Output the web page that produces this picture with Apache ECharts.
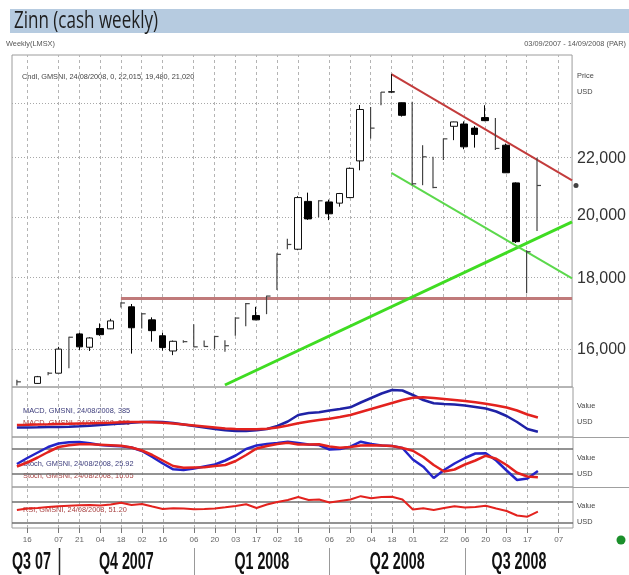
<!DOCTYPE html>
<html><head><meta charset="utf-8">
<script src="https://cdn.jsdelivr.net/npm/echarts@6/dist/echarts.min.js"></script>
<style>html,body{margin:0;padding:0;background:#fff}#c{width:629px;height:575px}</style>
</head><body><div id="c"></div>
<script>
// ---------- data ----------
const weekNo = [0,1,2,3,4,5,6,7,8,9,10,11,12,13,14,15,16,17,18,19,20,21,22,23,24,25,26,27,28,29,30,31,32,33,34,35,36,37,38,39,40,41,42,43,44,45,46,47,48,49,50];
const opens  = [null,null,15110,null,15370,null,16410,16050,16560,16550,null,17170,null,16800,16360,15950,null,null,null,null,null,null,null,16920,null,null,null,18900,20470,null,20450,20410,20600,21900,null,null,24560,24130,null,null,null,null,23200,23290,23130,23540,null,22480,21110,null,null];
const highs  = [15200,null,15300,15400,16060,16330,16440,16320,16700,16830,17300,17250,16990,16870,16440,16230,16240,16680,16230,16360,16240,16870,17280,17170,17490,18770,19230,20650,20770,20510,20530,20760,21660,24040,23960,24570,25310,24140,24170,22480,22050,22730,23380,23390,23210,24030,23520,22540,21130,18870,22015];
const lows   = [15060,null,15100,15320,15370,15500,15980,15950,16360,16540,17150,15880,16560,16200,15960,15840,16170,16050,16060,16010,15930,16360,16620,16790,16960,17660,18900,18870,19850,19930,19840,20290,20580,21560,22730,24030,24520,23580,21030,21030,20920,21930,22670,22330,22390,23400,22300,21470,19100,17560,19480];
const closes = [15150,null,15280,15370,16000,16320,16060,16300,16390,16770,17280,16580,16970,16500,16040,16210,16200,16060,16070,16340,16090,16850,17260,16800,17480,18740,19050,20600,19880,20490,20050,20740,21630,23860,23130,24560,24580,23630,21080,22050,20950,22720,23370,22420,22890,23420,22360,21470,19140,18820,21020];

const macdLine   = [-175,-175,-165,-150,-150,-135,-115,-90,-50,-15,25,65,100,110,100,50,-25,-100,-175,-250,-315,-350,-350,-315,-250,-100,125,450,550,585,675,750,835,1075,1300,1525,1700,1675,1450,1200,1035,1000,975,925,850,775,625,400,100,-250,-385];
const macdSignal = [-50,-40,-25,-15,0,10,25,35,50,65,85,100,100,90,65,25,-25,-75,-125,-175,-225,-250,-265,-260,-235,-175,-75,35,125,200,265,350,450,600,750,900,1050,1200,1310,1335,1300,1250,1200,1150,1085,1010,925,825,675,475,325];
const stochK = [44.0,58.4,71.6,84.8,93.2,96.1,96.8,93.7,89.6,87.7,86.5,83.6,75.2,60.8,45.2,31.3,29.6,33.2,38.0,42.8,52.4,64.4,80.0,88.4,92.0,94.4,97.5,94.4,90.8,89.6,78.8,80.0,85.5,97.5,92.0,88.4,87.2,82.4,54.8,37.5,10.4,29.6,45.2,58.4,69.2,69.7,52.4,28.4,5.6,9.2,27.0];
const stochD = [38.0,47.6,59.6,72.8,84.8,88.9,91.3,91.5,90.3,89.1,87.7,83.6,76.4,65.6,52.4,39.2,35.1,35.6,36.1,39.2,41.6,51.2,65.6,81.2,87.2,92.0,95.1,90.8,90.8,91.3,86.0,83.1,84.8,88.4,89.1,88.4,87.2,82.4,75.7,60.8,41.6,26.0,30.8,42.8,52.4,63.9,56.5,41.6,23.1,14.0,12.1];
const rsi = [54.4,57.2,58.1,60.0,61.3,62.4,63.4,63.8,62.8,64.7,68.1,63.8,65.6,60.9,56.3,57.6,57.2,55.7,56.3,57.2,59.4,61.9,65.1,58.1,64.7,69.4,73.1,78.8,73.1,74.1,68.4,71.3,74.1,80.3,76.3,78.8,79.3,74.1,55.3,57.6,54.4,58.1,61.3,59.1,60.0,62.3,57.2,52.5,44.1,41.8,51.2];

const tickWeeks  = [1,4,6,8,10,12,14,17,19,21,23,25,27,30,32,34,36,38,41,43,45,47,49,52];
const tickLabels = ['16','07','21','04','18','02','16','06','20','03','17','02','16','06','20','04','18','01','22','06','20','03','17','07'];
const quarterNames = ['Q3 07','Q4 2007','Q1 2008','Q2 2008','Q3 2008'];
const quarterStarts = [4,17,30,43];

const priceGridValues = [16000,18000,20000,22000,24000];
const priceTickValues = [16000,18000,20000,22000];
const resistanceLine = [[36,25310],[53.37,21200]];
const channelLine    = [[36,21470],[53.37,18000]];
const supportLine    = [[20,15070],[53.37,19780]];
const levelLine      = [[10,17410],[53.37,17410]];
const lastClose = 21020;

// ---------- build ----------
const LN = Math.log;
const XMIN = -0.47, XMAX = 53.37;
const SANS = "'Liberation Sans','Arial',sans-serif";
function fmt(v){ return String(Math.round(v)).replace(/\B(?=(\d{3})+(?!\d))/g, ','); }

const candleData = [], barData = [];
weekNo.forEach((w,k)=>{
  if (highs[k] == null) return;
  if (opens[k] != null) candleData.push([w, LN(opens[k]), LN(closes[k]), LN(lows[k]), LN(highs[k])]);
  else barData.push([w, LN(highs[k]), LN(lows[k]), LN(closes[k])]);
});
const pairs = arr => weekNo.map((w,k)=>[w, arr[k]]);
const logPairs = arr => arr.map(p=>[p[0], LN(p[1])]);

const vGrid = tickWeeks.map(w=>({xAxis:w, lineStyle:{type:[3,3], color:'#b4b4b4', width:1}}));
const mk = extra => ({silent:true, symbol:'none', z:1, label:{show:false}, emphasis:{disabled:true}, data: vGrid.concat(extra||[])});
const level = v => ({yAxis:v, lineStyle:{type:'solid', color:'#6f6f6f', width:1.5}});

const grids = [
  {left:12, width:561, top:55, height:332},
  {left:12, width:561, top:387, height:50},
  {left:12, width:561, top:437, height:50},
  {left:12, width:561, top:487, height:41}
].map(g=>Object.assign(g,{show:true, borderColor:'#9c9c9c', borderWidth:1, backgroundColor:'transparent'}));

const xAxes = [0,1,2,3].map(i=>({
  gridIndex:i, type:'value', min:XMIN, max:XMAX, show: i===3,
  axisLine:{show:false}, splitLine:{show:false},
  axisTick:{show:true, customValues:tickWeeks, length:5, lineStyle:{color:'#777'}},
  axisLabel:{show:true, customValues:tickWeeks, margin:8, fontSize:8, color:'#666', fontFamily:SANS,
    formatter: v => { const k = tickWeeks.indexOf(Math.round(v)); return k>=0 ? tickLabels[k] : ''; }}
}));

const yAxes = [
  {gridIndex:0, type:'value', position:'right', min:LN(15020), max:LN(26130),
   axisLine:{show:false}, splitLine:{show:false}, axisTick:{show:false},
   axisLabel:{customValues:priceTickValues.map(LN), formatter:v=>fmt(Math.exp(v)), margin:5, fontSize:16, color:'#333', fontFamily:SANS}},
  {gridIndex:1, type:'value', min:-650, max:1850, show:false, splitLine:{show:false}},
  {gridIndex:2, type:'value', min:-11.2, max:108.8, show:false, splitLine:{show:false}},
  {gridIndex:3, type:'value', min:20.6, max:97.5, show:false, splitLine:{show:false}}
];

const trend = (data, color, width, z) => ({type:'line', xAxisIndex:0, yAxisIndex:0, data:logPairs(data), symbol:'none', silent:true, z:z,
  lineStyle:{color:color, width:width}});

const series = [
  {type:'line', xAxisIndex:0, yAxisIndex:0, data:[], silent:true,
   markLine: mk(priceGridValues.map(p=>({yAxis:LN(p), lineStyle:{type:[1,2], color:'#a8a8a8', width:1}})))},
  trend(levelLine, '#c07a7a', 3, 3),
  trend(supportLine, '#3fdc22', 3, 3),
  trend(channelLine, '#5cd84c', 2, 3),
  trend(resistanceLine, '#c33c3c', 2, 3),
  {type:'candlestick', xAxisIndex:0, yAxisIndex:0, data:candleData, barWidth:7, z:4, silent:true,
   itemStyle:{color:'#ffffff', color0:'#000000', borderColor:'#111', borderColor0:'#000', borderWidth:1}},
  {type:'custom', xAxisIndex:0, yAxisIndex:0, data:barData, z:4, silent:true,
   encode:{x:0, y:[1,2,3]},
   renderItem:function(params, api){
     const x = api.value(0);
     const pH = api.coord([x, api.value(1)]), pL = api.coord([x, api.value(2)]), pC = api.coord([x, api.value(3)]);
     return {type:'group', children:[
       {type:'line', shape:{x1:pH[0], y1:pH[1], x2:pL[0], y2:Math.max(pL[1], pH[1]+1)}, style:{stroke:'#444', lineWidth:1.2}},
       {type:'line', shape:{x1:pC[0], y1:pC[1], x2:pC[0]+4, y2:pC[1]}, style:{stroke:'#444', lineWidth:1.2}}
     ]};
   }},
  {type:'scatter', xAxisIndex:0, yAxisIndex:0, data:[[53.75, LN(lastClose)]], symbol:'circle', symbolSize:5, clip:false, z:5, silent:true,
   itemStyle:{color:'#111'}},
  // MACD
  {type:'line', xAxisIndex:1, yAxisIndex:1, data:pairs(macdLine), symbol:'none', silent:true, z:3,
   lineStyle:{color:'#1f22a6', width:2.5}, markLine: mk()},
  {type:'line', xAxisIndex:1, yAxisIndex:1, data:pairs(macdSignal), symbol:'none', silent:true, z:4,
   lineStyle:{color:'#e3221e', width:2.5}},
  // Stochastic
  {type:'line', xAxisIndex:2, yAxisIndex:2, data:pairs(stochK), symbol:'none', silent:true, z:3,
   lineStyle:{color:'#2424c8', width:2.5}, markLine: mk([level(80), level(20)])},
  {type:'line', xAxisIndex:2, yAxisIndex:2, data:pairs(stochD), symbol:'none', silent:true, z:4,
   lineStyle:{color:'#e3221e', width:2.5}},
  // RSI
  {type:'line', xAxisIndex:3, yAxisIndex:3, data:pairs(rsi), symbol:'none', silent:true, z:4,
   lineStyle:{color:'#e3221e', width:2}, markLine: mk([level(70), level(30)])}
];

const chart = echarts.init(document.getElementById('c'));
chart.setOption({animation:false, grid:grids, xAxis:xAxes, yAxis:yAxes, series:series});

// ---------- texts & decorations ----------
const txt = (x, y, text, font, fill, align, sx) => ({type:'text', x:x, y:y, z:0, silent:true, scaleX:(sx||1),
  style:{text:text, font:font, fill:fill, textAlign:align||'left', textVerticalAlign:'middle'}});
const small = '8px ' + SANS;
const g = [
  {type:'rect', shape:{x:10, y:9, width:619, height:24}, style:{fill:'#b6cbe0'}, z:0, silent:true},
  txt(14, 21, 'Zinn (cash weekly)', "23px 'Open Sans',sans-serif", '#1e1e1e', 'left', 0.74),
  txt(6, 44, 'Weekly(LMSX)', small, '#555', 'left', 0.92),
  txt(626, 44, '03/09/2007 - 14/09/2008 (PAR)', small, '#555', 'right', 0.92),
  txt(22, 77, 'Cndl, GMSNI, 24/08/2008, 0, 22,015, 19,480, 21,020', small, '#444', 'left', 0.92),
  txt(577, 76, 'Price', small, '#444', 'left', 0.92),
  txt(577, 92, 'USD', small, '#444', 'left', 0.92),
  txt(23, 411, 'MACD, GMSNI, 24/08/2008, 385', small, '#3a3a7a', 'left', 0.92),
  txt(23, 423, 'MACD, GMSNI, 24/08/2008, 325', small, '#a84040', 'left', 0.92),
  txt(23, 464, 'Stoch, GMSNI, 24/08/2008, 25.92', small, '#3a3a7a', 'left', 0.92),
  txt(23, 476, 'Stoch, GMSNI, 24/08/2008, 16.05', small, '#a84040', 'left', 0.92),
  txt(23, 510, 'RSI, GMSNI, 24/08/2008, 51.20', small, '#a84040', 'left', 0.92),
  txt(577, 406, 'Value', small, '#444', 'left', 0.92), txt(577, 422, 'USD', small, '#444', 'left', 0.92),
  txt(577, 458, 'Value', small, '#444', 'left', 0.92), txt(577, 474, 'USD', small, '#444', 'left', 0.92),
  txt(577, 506, 'Value', small, '#444', 'left', 0.92), txt(577, 522, 'USD', small, '#444', 'left', 0.92),
  {type:'line', shape:{x1:573, y1:437.5, x2:629, y2:437.5}, style:{stroke:'#a0a0a0', lineWidth:1}, silent:true},
  {type:'line', shape:{x1:573, y1:487.5, x2:629, y2:487.5}, style:{stroke:'#a0a0a0', lineWidth:1}, silent:true},
  {type:'circle', shape:{cx:621, cy:540, r:4.5}, style:{fill:'#1b8f2b'}, silent:true}
];
const px = w => chart.convertToPixel({xAxisIndex:3}, w);
const bounds = [XMIN].concat(quarterStarts, [XMAX]);
quarterStarts.forEach((w,k)=>{
  const x = Math.round(px(w)) + 0.5;
  g.push({type:'line', shape:{x1:x, y1:548, x2:x, y2:575}, style:{stroke: k===0 ? '#222' : '#999', lineWidth: k===0 ? 1.5 : 1}, silent:true});
});
quarterNames.forEach((q,k)=>{
  const qf = 'bold 23px ' + SANS;
  if (k === 0) g.push(txt(12, 563, q, qf, '#111', 'left', 0.62));
  else g.push(txt((px(bounds[k]) + px(bounds[k+1]))/2, 563, q, qf, '#111', 'center', 0.62));
});
chart.setOption({graphic:{elements:g}});
</script>
</body></html>
